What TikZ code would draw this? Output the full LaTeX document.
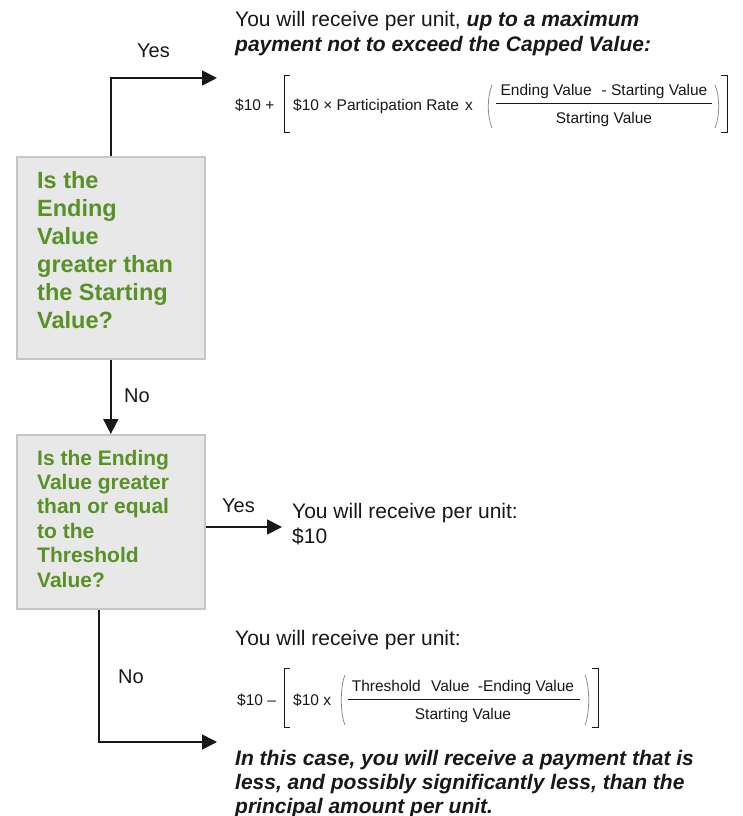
\documentclass[tikz,border=0pt]{standalone}
\usepackage{fontspec}
\setmainfont{Liberation Sans}
\usetikzlibrary{arrows.meta}
\definecolor{qgreen}{RGB}{88,145,38}
\definecolor{boxfill}{RGB}{232,232,232}
\definecolor{boxedge}{RGB}{198,198,198}
\definecolor{ink}{RGB}{24,24,24}
\definecolor{parcol}{RGB}{140,140,140}
\newcommand\lbrk[3]{\draw[brk] ({#1+6},#2) -- (#1,#2) -- (#1,#3) -- ({#1+6},#3);}
\newcommand\rbrk[3]{\draw[brk] ({#1-6},#2) -- (#1,#2) -- (#1,#3) -- ({#1-6},#3);}
\newcommand\lpar[3]{\draw[par] ({#1+4},#2) .. controls ({#1-1},{#2+12}) and ({#1-1},{#3-12}) .. ({#1+4},#3);}
\newcommand\rpar[3]{\draw[par] ({#1-4},#2) .. controls ({#1+1},{#2+12}) and ({#1+1},{#3-12}) .. ({#1-4},#3);}
\begin{document}
\begin{tikzpicture}[x=1pt,y=-1pt,
  every node/.style={inner sep=0pt, text=ink},
  qbox/.style={draw=boxedge, fill=boxfill, line width=1.6pt, minimum width=188pt,
    anchor=north west},
  qtext/.style={anchor=base west, align=left, text=qgreen},
  lbl/.style={anchor=base west, font=\fontsize{20}{24}\selectfont},
  txt/.style={anchor=base west, align=left, font=\fontsize{21}{25}\selectfont},
  fml/.style={font=\fontsize{15.5}{18}\selectfont},
  arr/.style={draw=ink, line width=1.8pt, -{Triangle[length=15pt,width=15pt]}},
  brk/.style={draw=ink, line width=0.9pt},
  par/.style={draw=parcol, line width=0.8pt},
  fracline/.style={draw=ink, line width=0.9pt}]
\fill[white] (0,0) rectangle (743,816);
\useasboundingbox (0,0) rectangle (743,816);

% decision boxes
\node[qbox, minimum height=202pt] (q1) at (16,156) {};
\node[qbox, minimum height=174pt] (q2) at (16,434) {};
% (anchor base of a multi-line node = its last line)
\node[qtext, font=\bfseries\fontsize{23.5}{28}\selectfont] (q1t) at (37,328)
  {Is the\\Ending\\Value\\greater than\\the Starting\\Value?};
\node[qtext, font=\bfseries\fontsize{21}{24.4}\selectfont] (q2t) at (37,587)
  {Is the Ending\\Value greater\\than or equal\\to the\\Threshold\\Value?};

% labels
\node[lbl] (yes1) at (137,58) {Yes};
\node[lbl] (no1) at (124,402) {No};
\node[lbl] (yes2) at (222,512) {Yes};
\node[lbl] (no2) at (118,683) {No};

% outcome texts
\node[txt] (t1) at (235,52) {You will receive per unit, \textbf{\textit{up to a maximum}}\\\textbf{\textit{payment not to exceed the Capped Value:}}};
\node[txt] (r2) at (292,543) {You will receive per unit:\\\$10};
\node[txt] (t3) at (235,645) {You will receive per unit:};
\node[txt, font=\bfseries\itshape\fontsize{21}{24}\selectfont] (t4) at (235,813)
  {In this case, you will receive a payment that is\\less, and possibly significantly less, than the\\principal amount per unit.};

% formula 1
\node[fml, anchor=base west] (f1a) at (235,110) {\$10 +};
\node[fml, anchor=base west] (f1b) at (293,110) {\$10 × Participation Rate\hspace{6pt}x};
\node[fml, anchor=base] (f1n) at (604,95) {Ending Value\hspace{10pt}- Starting Value};
\node[fml, anchor=base] (f1d) at (604,123) {Starting Value};
\draw[fracline] (496,103) -- (712,103);
\lbrk{284}{75}{132}
\lpar{488}{85}{128}
\rpar{719}{85}{128}
\rbrk{727}{75}{132}

% formula 2
\node[fml, anchor=base west] (f2a) at (237,705) {\$10 –};
\node[fml, anchor=base west] (f2b) at (293,705) {\$10 x};
\node[fml, anchor=base] (f2n) at (463,691) {Threshold\hspace{6pt} Value\hspace{4pt} -Ending Value};
\node[fml, anchor=base] (f2d) at (463,719) {Starting Value};
\draw[fracline] (348,699) -- (580,699);
\lbrk{284}{668}{727}
\lpar{341}{675}{725}
\rpar{589}{675}{725}
\rbrk{598}{668}{727}

% connectors
\coordinate (a1) at (217,78);
\draw[arr] (q1.north) |- (a1);
\draw[arr] (q1.south) -- (q2.north);
\coordinate (a2) at (282,527);
\draw[arr] (q2.east |- a2) -- (a2);
\coordinate (a3) at (217,742);
\draw[arr] ([xshift=-12pt]q2.south) |- (a3);
\end{tikzpicture}
\end{document}
